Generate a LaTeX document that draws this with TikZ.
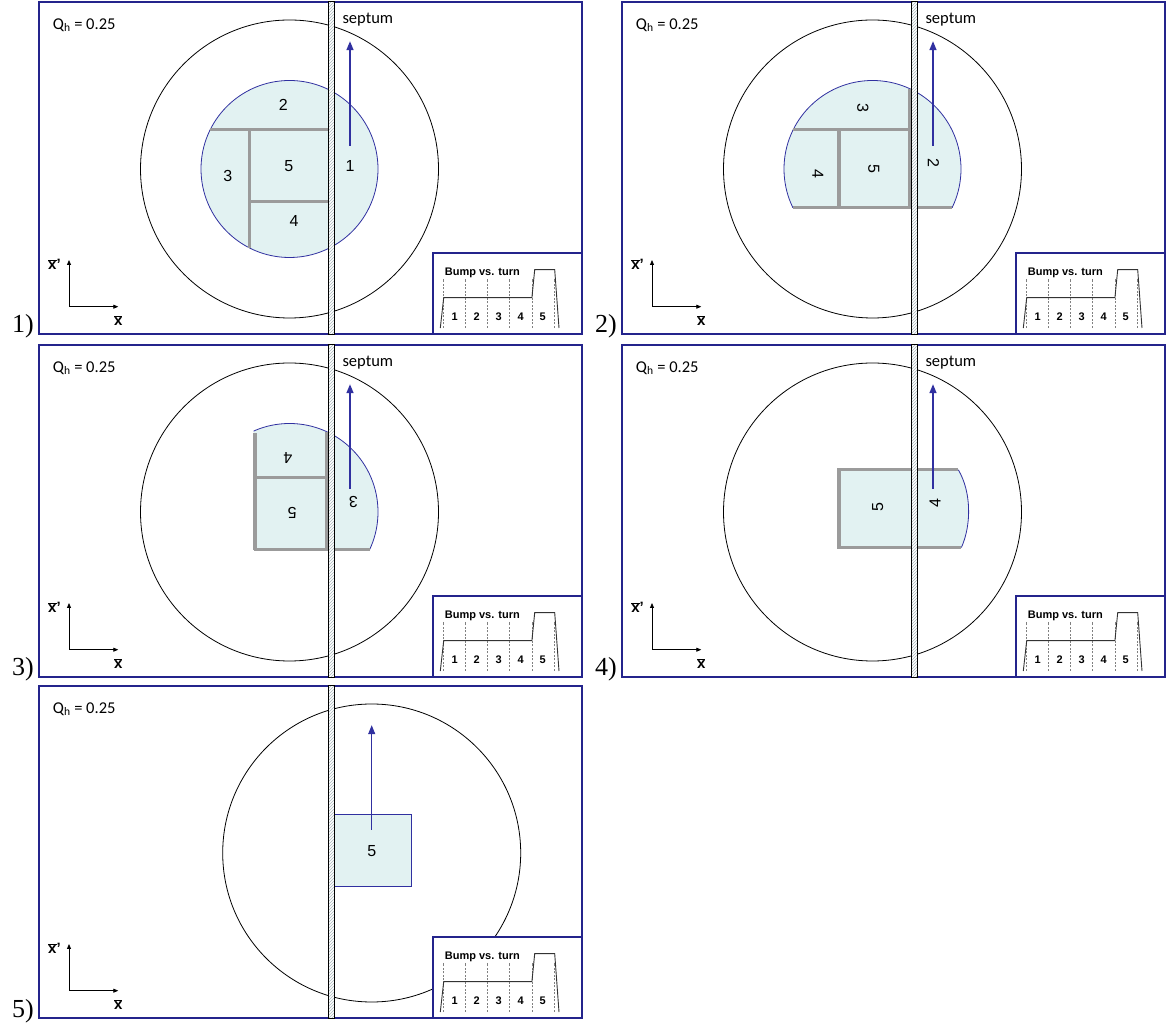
\documentclass[tikz,border=0pt]{standalone}
\usepackage{fontspec}
\setmainfont{Liberation Sans}
\newfontfamily\calibrifont{Carlito}
\newfontfamily\romanfont{Liberation Serif}
\usetikzlibrary{arrows.meta, patterns}

\definecolor{framecol}{RGB}{36,36,140}
\definecolor{navyline}{RGB}{48,48,160}
\definecolor{lightbeam}{RGB}{226,242,242}
\definecolor{cutgray}{RGB}{155,155,155}
\definecolor{hatchcol}{RGB}{170,185,190}

\tikzset{
  panelbox/.style={draw=framecol, line width=1.3pt, fill=white},
  ring/.style={draw=black, line width=0.8pt},
  beam/.style={fill=lightbeam},
  rim/.style={draw=navyline, line width=0.8pt},
  cutline/.style={draw=cutgray, line width=3.2pt},
  bignum/.style={font=\fontsize{16}{16}\selectfont, inner sep=0pt},
  kick/.style={draw=navyline, line width=1.5pt, -{Triangle[width=7pt,length=9pt]}},
  axis/.style={line width=0.8pt, -{Triangle[width=4pt,length=5pt]}},
  axlabel/.style={font=\fontsize{15}{15}\selectfont\bfseries, inner sep=0pt},
  calib/.style={font=\calibrifont\fontsize{16.5}{16.5}\selectfont, inner sep=0pt},
  tickline/.style={draw=gray, line width=0.5pt, dash pattern=on 2pt off 1.5pt},
  bumpline/.style={draw=black!80, line width=0.9pt},
  smallbold/.style={font=\fontsize{11}{11}\selectfont\bfseries, inner sep=0pt},
  turnlabel/.style={font=\romanfont\fontsize{26}{26}\selectfont, inner sep=0pt}
}

\begin{document}
\begin{tikzpicture}[x=1pt, y=1pt]
\useasboundingbox (0,0) rectangle (1168,1026);

% Panels and closed-orbit circles
\foreach \px/\py/\cx/\n in {39/692/250.5/1, 622/692/250.5/2, 39/349/250.5/3, 622/349/250.5/4, 39/8/332.7/5} {
  \draw[panelbox] (\px,\py) rectangle ++(543,332);
  \draw[ring] (\px+\cx,\py+165) circle (149);
}

% Turn 1
\begin{scope}[shift={(289.5,857)}]
  \fill[beam] (0,0) circle (88.5);
  \draw[rim] (0,0) circle (88.5);
  \draw[cutline] (-79.2,39.4) -- (38.8,39.4);
  \draw[cutline] (-39.9,39.4) -- (-39.9,-79);
  \draw[cutline] (-39.9,-32.8) -- (38.8,-32.8);
  \node[bignum] (a2) at (-6.2,63.6) {2};
  \node[bignum] (a3) at (-61.6,-7.3) {3};
  \node[bignum] (a5) at (-0.8,3) {5};
  \node[bignum] (a1) at (60.5,3) {1};
  \node[bignum] (a4) at (4.6,-52) {4};
\end{scope}

% Turn 2
\begin{scope}[shift={(872.5,857)}]
  \begin{scope}
    \clip (-100,-38.8) rectangle (100,100);
    \fill[beam] (0,0) circle (88.5);
    \draw[rim] (0,0) circle (88.5);
  \end{scope}
  \draw[cutline] (-79.5,-38.8) -- (79.5,-38.8);
  \draw[cutline] (-79.2,39.4) -- (38.8,39.4);
  \draw[cutline] (-33.5,-38.8) -- (-33.5,39.4);
  \draw[cutline] (37.3,-38.8) -- (37.3,79.8);
  \node[bignum, rotate=-90] (b3) at (-9.5,61) {3};
  \node[bignum, rotate=-90] (b4) at (-54.7,-4.6) {4};
  \node[bignum, rotate=-90] (b5) at (1.2,0) {5};
  \node[bignum, rotate=-90] (b2) at (61,5.6) {2};
\end{scope}

% Turn 3
\begin{scope}[shift={(289.5,514)}]
  \begin{scope}
    \clip (-36,-37.8) rectangle (100,100);
    \fill[beam] (0,0) circle (88.5);
    \draw[rim] (0,0) circle (88.5);
  \end{scope}
  \draw[cutline] (-34.5,-37.8) -- (-34.5,79);
  \draw[cutline] (-36,-37.8) -- (80,-37.8);
  \draw[cutline] (-34.5,34.5) -- (38.8,34.5);
  \draw[cutline] (37.3,-37.8) -- (37.3,80.2);
  \node[bignum, rotate=180] (c4) at (-1.6,53.6) {4};
  \node[bignum, rotate=180] (c5) at (2.7,-1) {5};
  \node[bignum, rotate=180] (c3) at (64,10) {3};
\end{scope}

% Turn 4
\begin{scope}[shift={(872.5,514)}]
  \fill[beam] (-33.6,42.2) -- (85.8,42.2) .. controls (99,20) and (99,-13) .. (88.9,-35.5) -- (-33.6,-35.5) -- cycle;
  \draw[rim] (85.8,42.2) .. controls (99,20) and (99,-13) .. (88.9,-35.5);
  \draw[cutline, line join=miter] (85.8,42.2) -- (-33.6,42.2) -- (-33.6,-35.5) -- (88.9,-35.5);
  \node[bignum, rotate=90] (d5) at (5.3,4.7) {5};
  \node[bignum, rotate=90] (d4) at (62.6,9) {4};
\end{scope}

% Turn 5
\begin{scope}[shift={(371.7,173)}]
  \filldraw[beam, rim] (-38.2,-33.3) rectangle (39.4,39);
  \node[bignum] (e5) at (0,2) {5};
\end{scope}

% Septum, kick, axes and bump inset in every panel
\foreach \px/\py/\ax/\kw/\n in {39/692/311/1.5/1, 622/692/311/1.5/2, 39/349/311/1.5/3, 622/349/311/1.5/4, 39/8/332.7/1/5} {
  \begin{scope}[shift={(\px,\py)}]
    \draw[kick, line width=\kw pt] (\ax,188.3) -- (\ax,292.8);
    % septum
    \fill[white] (289.3,-0.5) rectangle (295,332.5);
    \fill[pattern=north east lines, pattern color=hatchcol] (289.3,-0.5) rectangle (295,332.5);
    \draw[line width=0.6pt] (289.3,-0.5) rectangle (295,332.5);
    \node[calib, anchor=west] (qh\n) at (13.7,309) {Q\textsubscript{h} = 0.25};
    \ifnum\n<5 \node[calib, anchor=west] (sept\n) at (303.3,314) {septum}; \fi
    % axes
    \draw[axis] (30,27.3) -- (30,74);
    \draw[axis] (30,27.3) -- (79.3,27.3);
    \node[axlabel] (xp\n) at (15.5,69.5) {$\overline{\mbox{x}}$'};
    \node[axlabel] (xx\n) at (79.3,13) {$\overline{\mbox{x}}$};
    % bump vs. turn
    \draw[panelbox] (394,0) rectangle (543,81);
    \foreach \d in {10.7,32.7,54.7,76.7,98.9,121.7}
      \draw[tickline] (394+\d,6) -- (394+\d,55.3);
    \draw[bumpline] (401.3,6) -- (404.7,36.3) -- (492.9,36.3) -- (495.7,64.3) -- (515.7,64.3) -- (520,6);
    \node[smallbold, anchor=base west] (bt\n) at (405.7,58.7) {Bump vs. turn};
    \foreach \k in {1,...,5}
      \node[smallbold] (t\n\k) at (393.7+22*\k,17.7) {\k};
    \node[turnlabel, anchor=base east] (turn\n) at (-5,1) {\n)};
  \end{scope}
}
\end{tikzpicture}
\end{document}
